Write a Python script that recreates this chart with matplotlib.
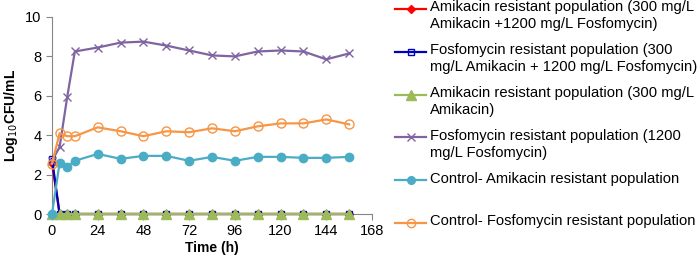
# Time-kill curves for amikacin / fosfomycin resistant populations

import numpy as np
import matplotlib.pyplot as plt
from matplotlib.lines import Line2D

time_h = [0, 4, 8, 12, 24, 36, 48, 60, 72, 84, 96, 108, 120, 132, 144, 156]

ami_res_combo = [2.6, 0, 0, 0, 0, 0, 0, 0, 0, 0, 0, 0, 0, 0, 0, 0]
fos_res_combo = [2.8, 0, 0, 0, 0, 0, 0, 0, 0, 0, 0, 0, 0, 0, 0, 0]
ami_res_ami = [0, 0, 0, 0, 0, 0, 0, 0, 0, 0, 0, 0, 0, 0, 0, 0]
fos_res_fos = [2.7, 3.4, 5.95, 8.25, 8.45, 8.7, 8.75, 8.55, 8.3, 8.05,
               8.0, 8.25, 8.3, 8.25, 7.85, 8.15]
ctrl_ami = [0, 2.6, 2.4, 2.7, 3.05, 2.8, 2.95, 2.95, 2.7, 2.9,
            2.7, 2.9, 2.9, 2.85, 2.85, 2.9]
ctrl_fos = [2.55, 4.1, 3.95, 3.95, 4.4, 4.2, 3.95, 4.2, 4.15, 4.35,
            4.2, 4.45, 4.6, 4.6, 4.8, 4.55]

labels = [
    "Amikacin resistant population (300 mg/L\nAmikacin +1200 mg/L Fosfomycin)",
    "Fosfomycin resistant population (300\nmg/L Amikacin + 1200 mg/L Fosfomycin)",
    "Amikacin resistant population (300 mg/L\nAmikacin)",
    "Fosfomycin resistant population (1200\nmg/L Fosfomycin)",
    "Control- Amikacin resistant population",
    "Control- Fosfomycin resistant population",
]

series = [ami_res_combo, fos_res_combo, ami_res_ami, fos_res_fos, ctrl_ami, ctrl_fos]
colors = ["#FF0000", "#0000C0", "#9BBB59", "#8064A2", "#4BACC6", "#F79646"]
markers = ["D", "s", "^", "x", "o", "o"]
mfc = ["#FF0000", "none", "#9BBB59", "#8064A2", "#4BACC6", "none"]
msize = [4.5, 5, 7, 6, 6, 6.5]

plt.rcParams['font.family'] = ['Liberation Sans', 'DejaVu Sans']

fig = plt.figure(figsize=(7, 2.66), dpi=100)
ax = fig.add_axes([52/700, 1 - 214/266, 320/700, 197/266])

# draw order: controls and purple first, zero-lines on top like the original
order = [4, 5, 3, 1, 0, 2]
for i in order:
    ax.plot(time_h, series[i], color=colors[i], marker=markers[i],
            markerfacecolor=mfc[i], markeredgecolor=colors[i],
            markersize=msize[i], linewidth=1.6, markeredgewidth=1.0,
            clip_on=False, zorder=3 + i * 0.1)

ax.set_xlim(0, 168)
ax.set_ylim(0, 10)
ax.set_xticks(np.arange(0, 169, 24))
ax.set_yticks(np.arange(0, 11, 2))
ax.tick_params(labelsize=10.5, length=4, color="#868686", width=0.8)
for s in ["top", "right"]:
    ax.spines[s].set_visible(False)
for s in ["left", "bottom"]:
    ax.spines[s].set_color("#868686")
    ax.spines[s].set_linewidth(0.8)
ax.set_xlabel("Time (h)", fontsize=10, fontweight="bold", labelpad=2)
ax.set_ylabel("Log$_{10}$CFU/mL", fontsize=10, fontweight="bold", labelpad=4)

# legend laid out like the Excel one: each entry gets a two-line slot
for i, lab in enumerate(labels):
    ypx = 9 + 42.8 * i
    yf = 1 - ypx / 266
    fig.add_artist(Line2D([395/700, 426/700], [yf, yf], color=colors[i],
                          linewidth=1.6))
    fig.add_artist(Line2D([410.5/700], [yf], color=colors[i], marker=markers[i],
                          markerfacecolor=mfc[i], markeredgecolor=colors[i],
                          markersize=msize[i] - 0.5, linestyle="none"))
    fig.text(430/700, 1 - (ypx - 8.5) / 266, lab, fontsize=10.6, va="top",
             ha="left", linespacing=1.25)

fig.savefig("out.png", dpi=100)
